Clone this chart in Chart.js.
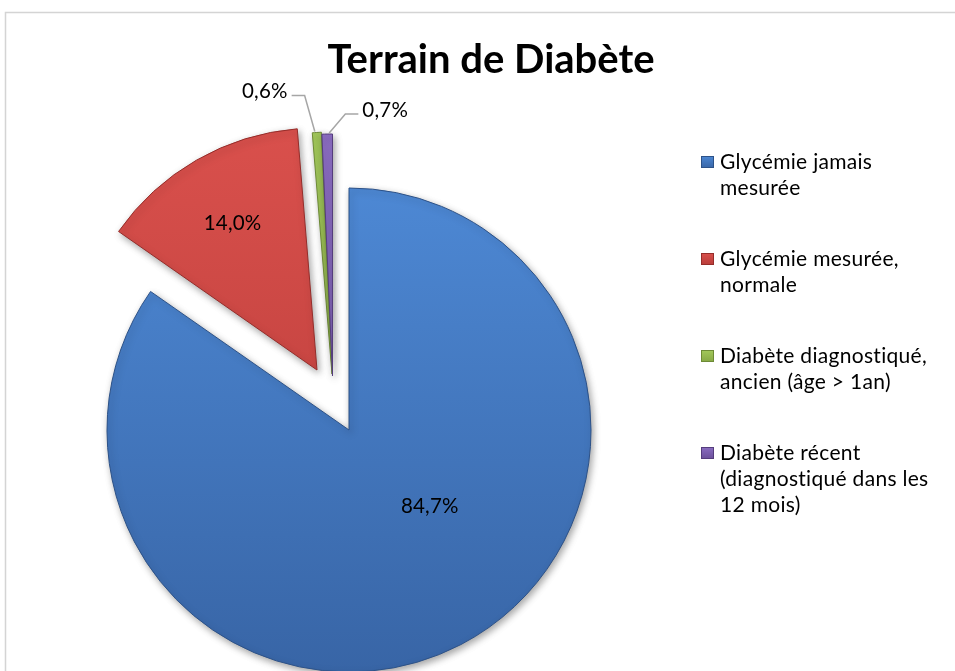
<!DOCTYPE html>
<html>
<head>
<meta charset="utf-8">
<script src="https://cdn.jsdelivr.net/npm/chart.js@4"></script>
<style>
  html, body { margin: 0; padding: 0; background: #fff; }
</style>
</head>
<body>
<canvas id="myChart" width="955" height="671"></canvas>
<script>
var categories = ['Glycémie jamais mesurée', 'Glycémie mesurée, normale', 'Diabète diagnostiqué, ancien (âge > 1an)', 'Diabète récent (diagnostiqué dans les 12 mois)'];
var legendLines = [['Glycémie jamais', 'mesurée'], ['Glycémie mesurée,', 'normale'], ['Diabète diagnostiqué,', 'ancien (âge > 1an)'], ['Diabète récent', '(diagnostiqué dans les', '12 mois)']];
var values = [84.7, 14.0, 0.6, 0.7];
var chartTitle = 'Terrain de Diabète';

// colours (top / bottom of the gradient, edge)
var topColors = ['#4d88d4', '#d9504c', '#a3c95b', '#8b6dc2'];
var bottomColors = ['#3865a6', '#b83c39', '#86a844', '#6a4f99'];
var edgeColors = ['#2d5288', '#952d2a', '#6d8a36', '#553d7d'];

// how far each slice is pulled out (px)
var explode = [[0, 0], [-32, -60], [-17, -56], [-16.5, -54]];
// label placement: inside -> fraction of radius + angle turn (deg), outside -> dx/dy from the rim
var labelPlace = [
  { frac: 0.46, turn: -19 },
  { frac: 0.70, turn: 0 },
  { dx: -52, dy: -41 },
  { dx: 58, dy: -24 }
];
var RADIUS = 242;
var FONT = 'Lato, "Open Sans", sans-serif';

function pct(v) {
  return v.toFixed(1).replace('.', ',') + '%';
}

function setSpacing(ctx, s) {
  if ('letterSpacing' in ctx) ctx.letterSpacing = s;
}

var framePlugin = {
  id: 'frame',
  beforeDraw: function(chart) {
    var ctx = chart.ctx;
    ctx.save();
    ctx.fillStyle = '#fff';
    ctx.fillRect(0, 0, chart.width, chart.height);
    ctx.strokeStyle = '#d4d4d4';
    ctx.lineWidth = 1.5;
    ctx.strokeRect(5.5, 12.5, 1200, 1200);
    ctx.restore();
  }
};

var explodePlugin = {
  id: 'explode',
  beforeDatasetDraw: function(chart, args) {
    var ctx = chart.ctx;
    args.meta.data.forEach(function(arc, i) {
      ctx.save();
      ctx.translate(explode[i][0], explode[i][1]);
      ctx.shadowColor = 'rgba(0,0,0,0.35)';
      ctx.shadowBlur = 7;
      ctx.shadowOffsetX = 2;
      ctx.shadowOffsetY = 3;
      arc.draw(ctx);
      ctx.restore();
    });
    return false;
  }
};

var labelPlugin = {
  id: 'sliceLabels',
  afterDatasetsDraw: function(chart) {
    var ctx = chart.ctx;
    var meta = chart.getDatasetMeta(0);
    ctx.save();
    ctx.font = '20.5px ' + FONT;
    setSpacing(ctx, '0.2px');
    ctx.fillStyle = '#000';
    ctx.textBaseline = 'middle';
    ctx.textAlign = 'center';
    meta.data.forEach(function(arc, i) {
      var p = arc.getProps(['x', 'y', 'startAngle', 'endAngle', 'outerRadius'], true);
      var mid = (p.startAngle + p.endAngle) / 2;
      var bx = p.x + explode[i][0];
      var by = p.y + explode[i][1];
      var place = labelPlace[i];
      var text = pct(values[i]);
      if (place.frac !== undefined) {
        var a = mid + place.turn * Math.PI / 180;
        ctx.fillText(text, bx + Math.cos(a) * p.outerRadius * place.frac, by + Math.sin(a) * p.outerRadius * place.frac);
      } else {
        var ax = bx + Math.cos(mid) * p.outerRadius;
        var ay = by + Math.sin(mid) * p.outerRadius;
        var lx = ax + place.dx;
        var ly = ay + place.dy;
        ctx.fillText(text, lx, ly);
        var w = ctx.measureText(text).width;
        var dir = place.dx < 0 ? 1 : -1;
        var edge = lx + dir * (w / 2 + 4);
        var hy = ly + 4;
        ctx.beginPath();
        ctx.strokeStyle = '#a6a6a6';
        ctx.lineWidth = 1.5;
        ctx.moveTo(edge, hy);
        ctx.lineTo(edge + dir * 13, hy);
        ctx.lineTo(ax - dir * 2, ay - 1);
        ctx.stroke();
      }
    });
    ctx.restore();
  }
};

var sidePlugin = {
  id: 'titleLegend',
  afterDraw: function(chart) {
    var ctx = chart.ctx;
    ctx.save();
    ctx.fillStyle = '#000';
    ctx.font = 'bold 40px ' + FONT;
    ctx.textAlign = 'center';
    ctx.textBaseline = 'middle';
    ctx.fillText(chartTitle, 491, 60);

    ctx.font = '21px ' + FONT;
    setSpacing(ctx, '0.3px');
    ctx.textAlign = 'left';
    legendLines.forEach(function(lines, i) {
      var y0 = 162 + i * 97;
      var g = ctx.createLinearGradient(0, y0 - 6, 0, y0 + 6);
      g.addColorStop(0, topColors[i]);
      g.addColorStop(1, bottomColors[i]);
      ctx.fillStyle = g;
      ctx.fillRect(701, y0 - 6, 13, 12);
      ctx.strokeStyle = edgeColors[i];
      ctx.lineWidth = 1;
      ctx.strokeRect(701.5, y0 - 5.5, 12, 11);
      ctx.fillStyle = '#000';
      lines.forEach(function(line, k) {
        ctx.fillText(line, 720, y0 + k * 26);
      });
    });
    ctx.restore();
  }
};

var ctx = document.getElementById('myChart').getContext('2d');
var myChart = new Chart(ctx, {
  type: 'pie',
  data: {
    labels: categories,
    datasets: [{
      data: values,
      backgroundColor: function(c) {
        var area = c.chart.chartArea;
        if (!area) return topColors[c.dataIndex];
        var cy = (area.top + area.bottom) / 2;
        var g = c.chart.ctx.createLinearGradient(0, cy - RADIUS, 0, cy + RADIUS);
        g.addColorStop(0, topColors[c.dataIndex]);
        g.addColorStop(1, bottomColors[c.dataIndex]);
        return g;
      },
      borderColor: edgeColors,
      borderWidth: 1
    }]
  },
  options: {
    responsive: false,
    animation: false,
    radius: RADIUS,
    layout: { padding: { left: 0, right: 257, top: 189, bottom: 0 } },
    plugins: {
      legend: { display: false },
      title: { display: false },
      tooltip: { enabled: false }
    }
  },
  plugins: [framePlugin, explodePlugin, labelPlugin, sidePlugin]
});
</script>
</body>
</html>
